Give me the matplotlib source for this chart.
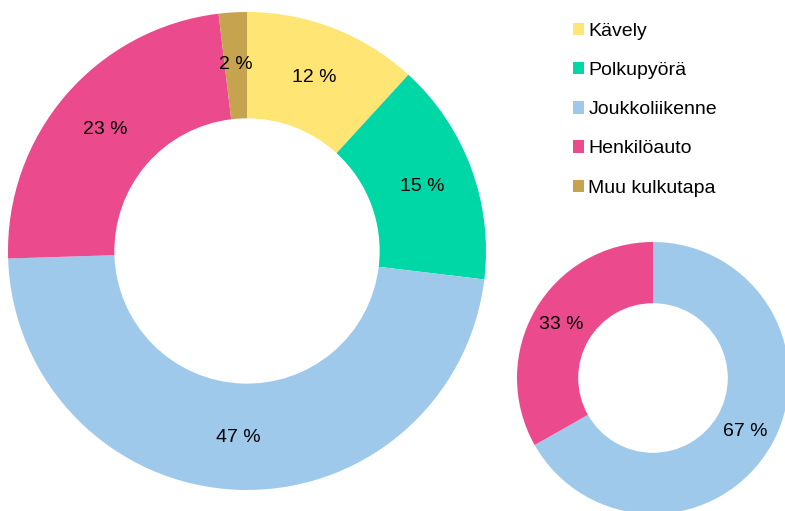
import matplotlib.pyplot as plt
import numpy as np

plt.rcParams['font.family'] = ['Liberation Sans', 'DejaVu Sans']

modes = ["Kävely", "Polkupyörä", "Joukkoliikenne", "Henkilöauto", "Muu kulkutapa"]
colors = ["#FFE574", "#00D7A7", "#9FC9EB", "#EB4A8C", "#C6A34F"]

# large ring
share_big = [11.8, 15.1, 47.6, 23.6, 1.9]
labels_big = ["12 %", "15 %", "47 %", "23 %", "2 %"]

# small ring
share_small = [66.8, 33.2]
labels_small = ["67 %", "33 %"]
colors_small = ["#9FC9EB", "#EB4A8C"]

W, H = 785, 511
fig = plt.figure(figsize=(W / 100, H / 100), dpi=100)

def ring_axes(cx, cy, r):
    return fig.add_axes([(cx - r) / W, (H - cy - r) / H, 2 * r / W, 2 * r / H])

def ring_labels(ax, vals, labs, rad):
    ang = 90
    for v, lab in zip(vals, labs):
        mid = np.deg2rad(ang - v * 3.6 / 2)
        ax.text(rad * np.cos(mid), rad * np.sin(mid), lab, ha='center', va='center',
                fontsize=14)
        ang -= v * 3.6

ax1 = ring_axes(247, 251, 239)
wedges, _ = ax1.pie(share_big, colors=colors, startangle=90, counterclock=False,
                    radius=1, wedgeprops=dict(width=0.445, linewidth=0))
ax1.set_xlim(-1, 1)
ax1.set_ylim(-1, 1)
ax1.set_aspect('equal')
ring_labels(ax1, share_big, labels_big, 0.78)

ax2 = ring_axes(653, 378, 136)
ax2.pie(share_small, colors=colors_small, startangle=90, counterclock=False,
        radius=1, wedgeprops=dict(width=0.45, linewidth=0))
ax2.set_xlim(-1, 1)
ax2.set_ylim(-1, 1)
ax2.set_aspect('equal')
ring_labels(ax2, share_small, labels_small, 0.785)

fig.legend(wedges, modes, loc='upper left', bbox_to_anchor=(565 / W, 1 - 15 / H),
           frameon=False, fontsize=14, handlelength=0.6, handleheight=0.6,
           handletextpad=0.2, labelspacing=1.14, borderaxespad=0)

fig.savefig("out.png", dpi=100)
